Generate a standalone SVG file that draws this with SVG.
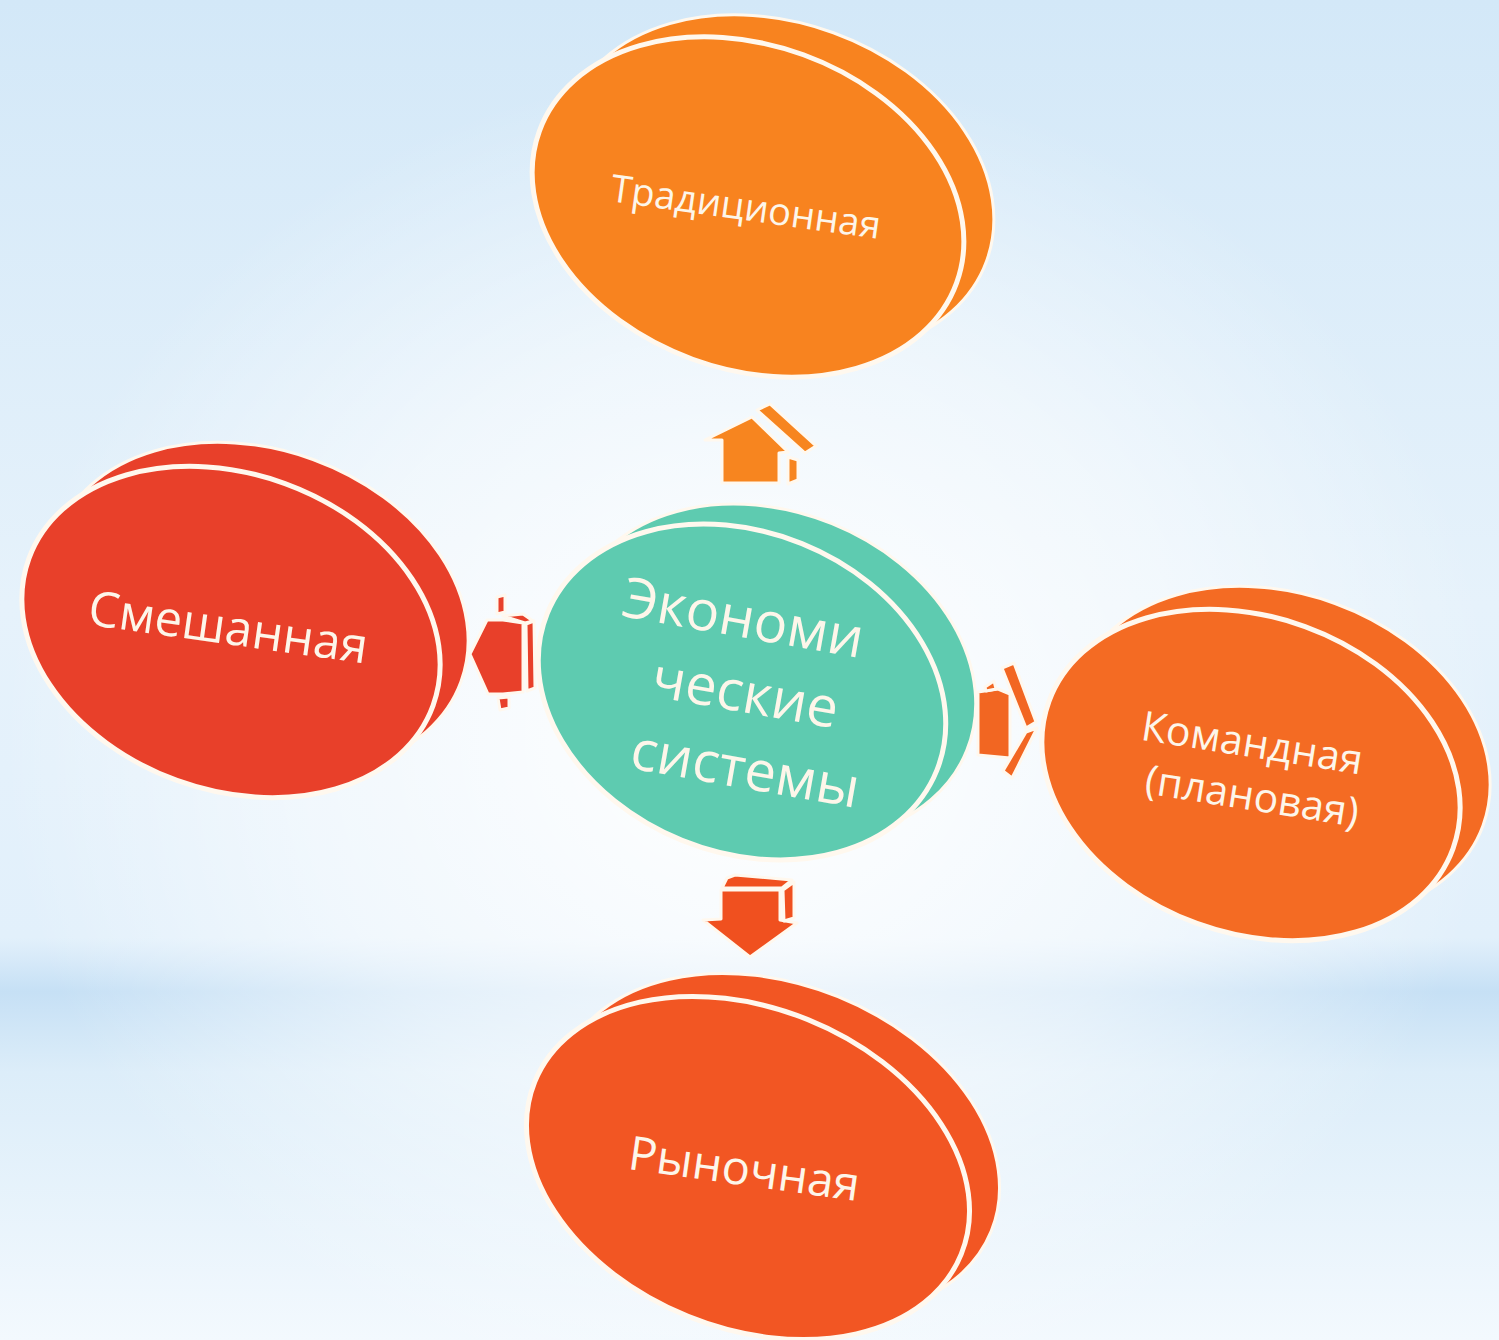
<svg xmlns="http://www.w3.org/2000/svg" width="1499" height="1340" viewBox="0 0 1499 1340">
<defs>
<linearGradient id="bgv" x1="0" y1="0" x2="0" y2="1">
<stop offset="0" stop-color="#d3e8f8"/>
<stop offset="0.45" stop-color="#e6f2fb"/>
<stop offset="0.7" stop-color="#e2f0fb"/>
<stop offset="0.74" stop-color="#c6e0f5"/>
<stop offset="0.8" stop-color="#dcedf9"/>
<stop offset="1" stop-color="#f3f9fe"/>
</linearGradient>
<radialGradient id="bgr" cx="0.5" cy="0.55" r="0.5">
<stop offset="0" stop-color="#ffffff" stop-opacity="1"/>
<stop offset="0.6" stop-color="#ffffff" stop-opacity="0.5"/>
<stop offset="1" stop-color="#ffffff" stop-opacity="0"/>
</radialGradient>
<style>
.lbl{font-family:"Open Sans","Noto Sans","DejaVu Sans",sans-serif;fill:#fdf6ea;text-anchor:middle}
.back{stroke:#fff8ee;stroke-width:3}
.front{stroke:#fff8ee;stroke-width:5}
.arr{stroke:#fff8ee;stroke-width:3;stroke-linejoin:round}
</style>
</defs>
<rect width="1499" height="1340" fill="url(#bgv)"/>
<rect width="1499" height="1340" fill="url(#bgr)"/>

<g id="connectors">
<g id="arrow-up">
<polygon class="arr" fill="#f7851f" points="705,440 752,417 788,452 779,453 779,483 722,483 722,440"/>
<polygon class="arr" fill="#f7851f" points="757,410 770,404 816,446 805,453"/>
<polygon class="arr" fill="#f7851f" points="788,457 798,460 798,480 788,484"/>
</g>
<g id="arrow-left">
<polygon class="arr" fill="#e8402a" points="470,654 487,620 503,620 523,623 523,692 503,694 488,694"/>
<polygon class="arr" fill="#e8402a" points="497,597 505,595 505,612 497,614"/>
<polygon class="arr" fill="#e8402a" points="498,698 509,697 509,708 500,710"/>
<polygon class="arr" fill="#e8402a" points="503,616 523,614 533,621 525,623"/>
<polygon class="arr" fill="#e8402a" points="526,624 534,621 535,688 527,691"/>
</g>
<g id="arrow-right">
<polygon class="arr" fill="#f26622" points="978,692 998,689 1010,694 1010,758 978,755"/>
<polygon class="arr" fill="#f26622" points="1002,668 1014,663 1036,722 1026,728"/>
<polygon class="arr" fill="#f26622" points="1026,732 1037,728 1012,778 1003,771"/>
<polygon class="arr" fill="#f26622" points="985,687 994,681 996,689 986,691"/>
</g>
<g id="arrow-down">
<polygon class="arr" fill="#f0501f" points="721,890 780,890 780,920 797,923 750,957 703,920 721,919"/>
<polygon class="arr" fill="#f0501f" points="727,878 735,875 792,880 782,888 722,888"/>
<polygon class="arr" fill="#f0501f" points="783,890 794,882 794,918 784,921"/>
</g>
</g>

<g id="node-traditional">
<ellipse class="back" fill="#f8831f" cx="778" cy="185" rx="222" ry="162" transform="rotate(20 778 185)"/>
<ellipse class="front" fill="#f8831f" cx="748" cy="207" rx="222" ry="162" transform="rotate(20 748 207)"/>
<text class="lbl" font-size="38" transform="translate(744 220) rotate(8)">Традиционная</text>
</g>

<g id="node-center">
<ellipse class="back" fill="#5ecbb0" cx="772" cy="672" rx="210" ry="160" transform="rotate(22 772 672)"/>
<ellipse class="front" fill="#5ecbb0" cx="742" cy="692" rx="210" ry="160" transform="rotate(22 742 692)"/>
<g class="lbl" font-size="56">
<text transform="translate(740 637) rotate(10)">Экономи</text>
<text transform="translate(742 712) rotate(10)">ческие</text>
<text transform="translate(742 788) rotate(10)">системы</text>
</g>
</g>

<g id="node-mixed">
<ellipse class="back" fill="#e8402a" cx="259" cy="608" rx="215" ry="158" transform="rotate(20 259 608)"/>
<ellipse class="front" fill="#e8402a" cx="231" cy="632" rx="215" ry="158" transform="rotate(20 231 632)"/>
<text class="lbl" font-size="49" transform="translate(226 644) rotate(8)">Смешанная</text>
</g>

<g id="node-command">
<ellipse class="back" fill="#f46b23" cx="1281" cy="752" rx="215" ry="158" transform="rotate(20 1281 752)"/>
<ellipse class="front" fill="#f46b23" cx="1251" cy="775" rx="215" ry="158" transform="rotate(20 1251 775)"/>
<g class="lbl" font-size="41">
<text transform="translate(1250 757) rotate(9)">Командная</text>
<text transform="translate(1250 810) rotate(9)">(плановая)</text>
</g>
</g>

<g id="node-market">
<ellipse class="back" fill="#f25623" cx="778" cy="1145" rx="230" ry="160" transform="rotate(22 778 1145)"/>
<ellipse class="front" fill="#f25623" cx="748" cy="1168" rx="230" ry="160" transform="rotate(22 748 1168)"/>
<text class="lbl" font-size="47" transform="translate(742 1185) rotate(8)">Рыночная</text>
</g>
</svg>
